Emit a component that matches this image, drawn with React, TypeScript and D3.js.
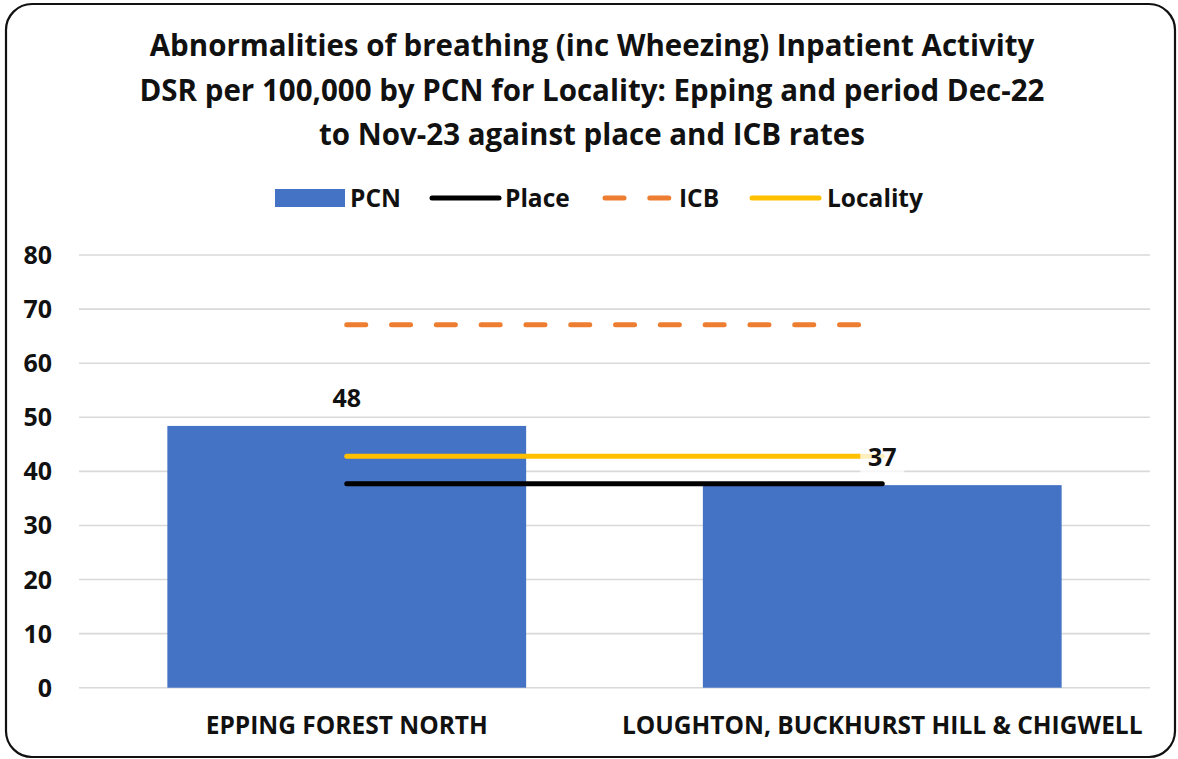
import * as d3 from 'd3'

const W = 1178
const H = 759
const PLOT = { left: 79, right: 1150, top: 255, bottom: 687.7 }

// data
const categories = ['EPPING FOREST NORTH', 'LOUGHTON, BUCKHURST HILL & CHIGWELL']
const pcnValues = [48.4, 37.45]
const placeValues = [37.7, 37.7]
const icbValues = [67.1, 67.1]
const localityValues = [42.8, 42.8]
const yTicks = [0, 10, 20, 30, 40, 50, 60, 70, 80]
const titleLines = [
  'Abnormalities of breathing (inc Wheezing) Inpatient Activity',
  'DSR per 100,000 by PCN for Locality: Epping and period Dec-22',
  'to Nov-23 against place and ICB rates',
]

const BAR_COLOR = '#4472C4'
const PLACE_COLOR = '#000000'
const ICB_COLOR = '#ED7D31'
const LOC_COLOR = '#FFC000'
const FONT = '"Open Sans", Calibri, sans-serif'
const ICB_DASH = '19 25.8'

export default function App() {
  const x = d3.scaleBand<string>()
    .domain(categories)
    .range([PLOT.left, PLOT.right])
    .paddingInner(0.33)
    .paddingOuter(0.165)
  const y = d3.scaleLinear().domain([0, 80]).range([PLOT.bottom, PLOT.top])
  const cx = (c: string) => (x(c) ?? 0) + x.bandwidth() / 2
  const fmt = d3.format('.0f')

  const line = d3.line<number>()
    .x((_, i) => cx(categories[i]))
    .y(d => y(d))

  const lineSeries = [
    { name: 'Locality', values: localityValues, color: LOC_COLOR, dash: undefined },
    { name: 'Place', values: placeValues, color: PLACE_COLOR, dash: undefined },
    { name: 'ICB', values: icbValues, color: ICB_COLOR, dash: ICB_DASH },
  ]

  // legend layout (symbol start, text start)
  const legendY = 198
  const legend = [
    { name: 'PCN', sx: 275, tx: 350, kind: 'rect', color: BAR_COLOR, dash: undefined },
    { name: 'Place', sx: 432, tx: 505, kind: 'line', color: PLACE_COLOR, dash: undefined },
    { name: 'ICB', sx: 605, tx: 679, kind: 'line', color: ICB_COLOR, dash: ICB_DASH },
    { name: 'Locality', sx: 752, tx: 827, kind: 'line', color: LOC_COLOR, dash: undefined },
  ]

  return (
    <div style={{ position: 'absolute', left: 0, top: 0 }}>
      <svg width={W} height={H} style={{ display: 'block', fontFamily: FONT }}>
        <rect x={0} y={0} width={W} height={H} fill="#fff" />
        <rect x={6} y={4} width={1169} height={753} rx={26} ry={26}
          fill="#fff" stroke="#111" strokeWidth={2.2} />

        {/* title */}
        {titleLines.map((t, i) => (
          <text key={i} x={592} y={56 + i * 44.5} textAnchor="middle"
            fontSize={29.5} fontWeight={700} fill="#111">{t}</text>
        ))}

        {/* legend */}
        {legend.map(l => (
          <g key={l.name}>
            {l.kind === 'rect'
              ? <rect x={l.sx} y={legendY - 9} width={70} height={18} fill={l.color} />
              : <line x1={l.sx} x2={l.sx + 67} y1={legendY} y2={legendY}
                  stroke={l.color} strokeWidth={5} strokeLinecap="round"
                  strokeDasharray={l.dash} />}
            <text x={l.tx} y={legendY + 9} fontSize={24.5} fontWeight={700} fill="#111">{l.name}</text>
          </g>
        ))}

        {/* gridlines + y ticks */}
        {yTicks.map(t => (
          <g key={t}>
            <line x1={PLOT.left} x2={PLOT.right} y1={y(t)} y2={y(t)} stroke="#d9d9d9" strokeWidth={1.6} />
            <text x={52} y={y(t) + 9} textAnchor="end" fontSize={25} fontWeight={700} fill="#111">{t}</text>
          </g>
        ))}

        {/* bars */}
        {categories.map((c, i) => (
          <rect key={c} x={x(c)} y={y(pcnValues[i])} width={x.bandwidth()}
            height={y(0) - y(pcnValues[i])} fill={BAR_COLOR} />
        ))}

        {/* lines */}
        {lineSeries.map(s => (
          <path key={s.name} d={line(s.values) ?? ''} fill="none" stroke={s.color}
            strokeWidth={5} strokeLinecap="round" strokeDasharray={s.dash} />
        ))}

        {/* data labels */}
        {categories.map((c, i) => {
          const ly = y(pcnValues[i]) - 28
          return (
            <g key={c}>
              <rect x={cx(c) - 22} y={ly - 18} width={44} height={36} fill="#fff" fillOpacity={0.75} />
              <text x={cx(c)} y={ly + 9} textAnchor="middle" fontSize={25} fontWeight={700} fill="#111">
                {fmt(pcnValues[i])}
              </text>
            </g>
          )
        })}

        {/* category labels */}
        {categories.map(c => (
          <text key={c} x={cx(c)} y={734} textAnchor="middle" fontSize={24.5} fontWeight={700} fill="#111">{c}</text>
        ))}
      </svg>
    </div>
  )
}
